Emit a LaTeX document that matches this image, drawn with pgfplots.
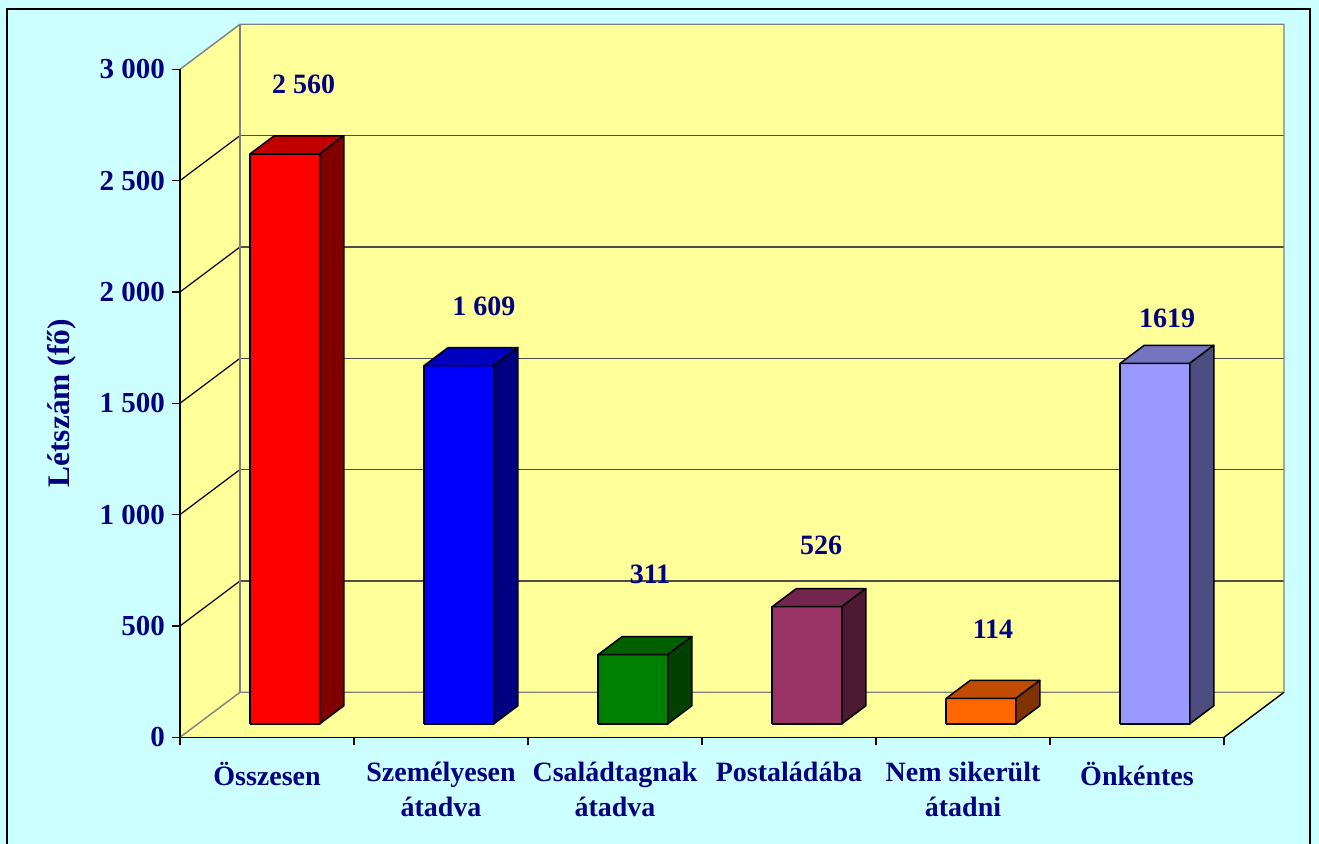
\documentclass[border=0pt]{standalone}
\usepackage{fontspec}
\setmainfont{Liberation Serif}
\usepackage{pgfplots}
\pgfplotsset{compat=1.18}
\definecolor{bgcyan}{HTML}{CCFFFF}
\definecolor{wall}{HTML}{FFFF99}
\definecolor{navy}{HTML}{000080}
\definecolor{rF}{HTML}{FF0000}\definecolor{rT}{HTML}{C00000}\definecolor{rS}{HTML}{800000}
\definecolor{bF}{HTML}{0000FF}\definecolor{bT}{HTML}{0000C0}\definecolor{bS}{HTML}{000080}
\definecolor{gF}{HTML}{008000}\definecolor{gT}{HTML}{006000}\definecolor{gS}{HTML}{004000}
\definecolor{pF}{HTML}{993366}\definecolor{pT}{HTML}{73264D}\definecolor{pS}{HTML}{4D1A33}
\definecolor{oF}{HTML}{FF6600}\definecolor{oT}{HTML}{BF4C00}\definecolor{oS}{HTML}{803300}
\definecolor{lF}{HTML}{9999FF}\definecolor{lT}{HTML}{7373BF}\definecolor{lS}{HTML}{4D4D80}
% #1 category index, #2 value, #3 front, #4 top, #5 side colour
% table columns: x = position inside category, d = depth (0 front .. 1 back), v = value
\newcommand{\barthreed}[5]{%
  \addplot[fill=#3, draw=black, line width=0.75pt, line join=round]
    table[row sep=\\, x expr=#1+\thisrow{x}+0.34483*\thisrow{d}, y expr=\thisrow{v}+202.1*\thisrow{d}]
    {x d v\\ 0.3 0.3 0\\ 0.7 0.3 0\\ 0.7 0.3 #2\\ 0.3 0.3 #2\\ 0.3 0.3 0\\};
  \addplot[fill=#4, draw=black, line width=0.75pt, line join=round]
    table[row sep=\\, x expr=#1+\thisrow{x}+0.34483*\thisrow{d}, y expr=\thisrow{v}+202.1*\thisrow{d}]
    {x d v\\ 0.3 0.3 #2\\ 0.7 0.3 #2\\ 0.7 0.7 #2\\ 0.3 0.7 #2\\ 0.3 0.3 #2\\};
  \addplot[fill=#5, draw=black, line width=0.75pt, line join=round]
    table[row sep=\\, x expr=#1+\thisrow{x}+0.34483*\thisrow{d}, y expr=\thisrow{v}+202.1*\thisrow{d}]
    {x d v\\ 0.7 0.3 0\\ 0.7 0.7 0\\ 0.7 0.7 #2\\ 0.7 0.3 #2\\ 0.7 0.3 0\\};
}
\begin{document}
\begin{tikzpicture}
\begin{axis}[
  x=87pt, y=0.111335pt,
  xmin=0, xmax=6, ymin=0, ymax=3000,
  clip=false, axis on top,
  axis x line*=bottom, axis y line*=left,
  axis line style={black, line width=0.75pt},
  tick align=outside, major tick length=4pt,
  tick style={black, line width=0.75pt},
  xtick={0,1,2,3,4,5,6},
  x tick label as interval,
  xticklabels={Összesen, {Személyesen\\átadva}, {Családtagnak\\átadva}, Postaládába, {Nem sikerült\\átadni}, Önkéntes},
  x tick label style={align=center, yshift=-5pt, font=\bfseries\fontsize{14}{17.5}\selectfont, text=navy},
  ytick={0,500,1000,1500,2000,2500,3000},
  yticklabels={0, 500, 1 000, 1 500, 2 000, 2 500, 3 000},
  y tick label style={font=\bfseries\fontsize{14.5}{17}\selectfont, text=navy},
  ylabel={Létszám (fő)},
  ylabel style={at={(rel axis cs:-0.113,0.5)}, anchor=center, rotate=0, font=\bfseries\fontsize{15.7}{18}\selectfont, text=navy},
]
% picture background and frame
\fill[bgcyan] (axis cs:-1.03448,-479.2) rectangle (axis cs:6.54598,3311.2);
\draw[black, line width=1pt] (axis cs:-0.99598,-700) rectangle (axis cs:6.49425,3272.1);
\coordinate (bl) at (axis cs:-1.03448,-479.2);
\coordinate (tr) at (axis cs:6.54598,3311.2);
% walls and floor
\fill[wall] (axis cs:0,0) -- (axis cs:0,3000) -- (axis cs:0.34483,3202.1) -- (axis cs:0.34483,202.1) -- cycle;
\fill[wall] (axis cs:0.34483,202.1) rectangle (axis cs:6.34483,3202.1);
\fill[wall] (axis cs:0,0) -- (axis cs:0.34483,202.1) -- (axis cs:6.34483,202.1) -- (axis cs:6,0) -- cycle;
% gridlines on back wall
\draw[black!70, line width=0.6pt] (axis cs:0.34483,702.1) -- (axis cs:6.34483,702.1);
\draw[black!70, line width=0.6pt] (axis cs:0.34483,1202.1) -- (axis cs:6.34483,1202.1);
\draw[black!70, line width=0.6pt] (axis cs:0.34483,1702.1) -- (axis cs:6.34483,1702.1);
\draw[black!70, line width=0.6pt] (axis cs:0.34483,2202.1) -- (axis cs:6.34483,2202.1);
\draw[black!70, line width=0.6pt] (axis cs:0.34483,2702.1) -- (axis cs:6.34483,2702.1);
% gridlines on left wall
\draw[black, line width=0.6pt] (axis cs:0,500) -- (axis cs:0.34483,702.1);
\draw[black, line width=0.6pt] (axis cs:0,1000) -- (axis cs:0.34483,1202.1);
\draw[black, line width=0.6pt] (axis cs:0,1500) -- (axis cs:0.34483,1702.1);
\draw[black, line width=0.6pt] (axis cs:0,2000) -- (axis cs:0.34483,2202.1);
\draw[black, line width=0.6pt] (axis cs:0,2500) -- (axis cs:0.34483,2702.1);
% wall edges
\draw[gray, line width=0.7pt] (axis cs:0,3000) -- (axis cs:0.34483,3202.1) -- (axis cs:6.34483,3202.1) -- (axis cs:6.34483,202.1) -- (axis cs:0.34483,202.1) -- (axis cs:0,0);
\draw[gray, line width=0.7pt] (axis cs:0.34483,3202.1) -- (axis cs:0.34483,202.1);
\draw[black, line width=0.7pt] (axis cs:6,0) -- (axis cs:6.34483,202.1);
% bars
\barthreed{0}{2560}{rF}{rT}{rS}
\barthreed{1}{1609}{bF}{bT}{bS}
\barthreed{2}{311}{gF}{gT}{gS}
\barthreed{3}{526}{pF}{pT}{pS}
\barthreed{4}{114}{oF}{oT}{oS}
\barthreed{5}{1619}{lF}{lT}{lS}
% value labels
\begin{scope}[every node/.style={font=\bfseries\fontsize{14}{17}\selectfont, text=navy, inner sep=0pt}]
\node at (axis cs:0.7098,2934) {2 560};
\node at (axis cs:1.7471,1937) {1 609};
\node at (axis cs:2.7011,733) {311};
\node at (axis cs:3.6839,864) {526};
\node at (axis cs:4.6724,486) {114};
\node at (axis cs:5.6724,1883) {1619};
\end{scope}
\end{axis}
\pgfresetboundingbox
\useasboundingbox (bl) rectangle (tr);
\end{tikzpicture}
\end{document}
